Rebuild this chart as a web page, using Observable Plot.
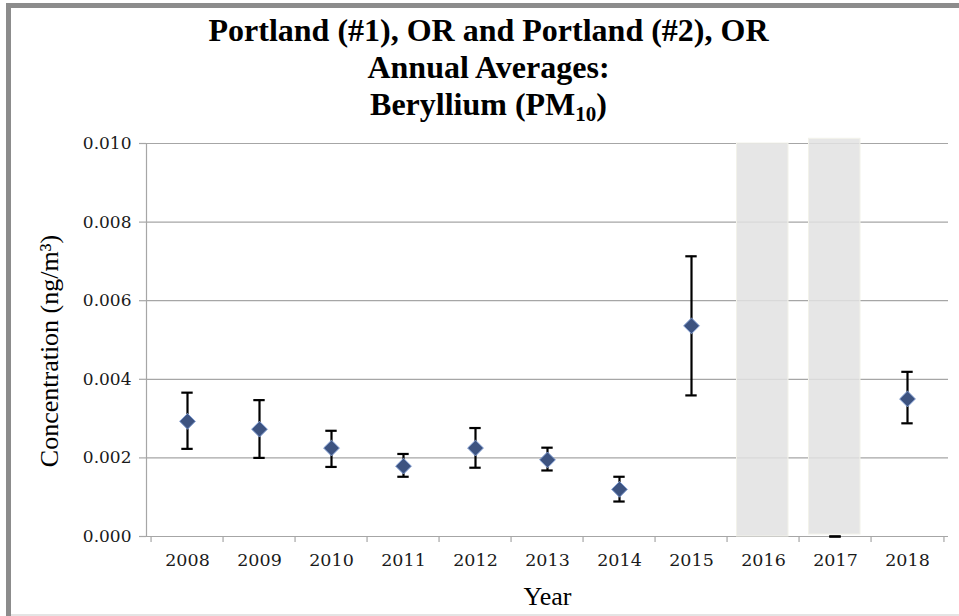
<!DOCTYPE html>
<html>
<head>
<meta charset="utf-8">
<script src="https://cdn.jsdelivr.net/npm/d3@7"></script>
<script src="https://cdn.jsdelivr.net/npm/@observablehq/plot@0.6"></script>
<style>
  html, body { margin: 0; padding: 0; background: #ffffff; }
  #wrap { position: relative; width: 959px; height: 616px; background: #ffffff; overflow: hidden; }
  #frameTop { position: absolute; left: 6px; top: 3px; width: 953px; height: 5px; background: #8c8c8c; }
  #frameLeft { position: absolute; left: 6px; top: 3px; width: 5px; height: 613px; background: #8c8c8c; }
  #frameBottom { position: absolute; left: 11px; top: 614px; width: 948px; height: 2px; background: #e4e4e4; }
  #title { position: absolute; left: 18px; top: 12px; width: 941px; text-align: center;
           font-family: "Liberation Serif", "Times New Roman", serif; font-weight: bold; font-size: 32px; color: #000; }
  #title div { line-height: 37px; height: 37px; white-space: nowrap; }
  #title sub { font-size: 21px; vertical-align: baseline; position: relative; top: 6px; }
  #chart { position: absolute; left: 0; top: 0; }
</style>
</head>
<body>
<div id="wrap">
  <div id="chart"></div>
  <div id="frameTop"></div>
  <div id="frameLeft"></div>
  <div id="frameBottom"></div>
  <div id="title">
    <div>Portland (#1), OR and Portland (#2), OR</div>
    <div>Annual Averages:</div>
    <div>Beryllium (PM<sub>10</sub>)</div>
  </div>
</div>
<script>
// ---- data ----
const years = ["2008", "2009", "2010", "2011", "2012", "2013", "2014", "2015", "2016", "2017", "2018"];
const means = [0.00293, 0.00273, 0.00225, 0.00179, 0.00225, 0.00195, 0.00120, 0.00536, null, null, 0.00350];
const lows  = [0.00223, 0.00200, 0.00177, 0.00152, 0.00175, 0.00168, 0.00089, 0.00359, null, 0, 0.00288];
const highs = [0.00366, 0.00347, 0.00269, 0.00210, 0.00276, 0.00226, 0.00152, 0.00713, null, 0, 0.00419];
const shadeYears = ["2016", "2017"];
const shadeLow = [0, 0.00005];
const shadeHigh = [0.0100, 0.01012];
const yTicks = [0, 0.002, 0.004, 0.006, 0.008, 0.010];
const yTitle = "Concentration (ng/m³)";
const xTitle = "Year";

const rows = years.map((y, i) => ({year: y, mean: means[i], lo: lows[i], hi: highs[i]}));
const shades = shadeYears.map((y, i) => ({year: y, y1: shadeLow[i], y2: shadeHigh[i]}));

const W = 959, H = 616, ML = 146, MR = 11, MT = 143, MB = 80;
const bw = (W - ML - MR) / years.length;
const capW = 12.3;
const capInset = (bw - capW) / 2;
const gridColor = "#a6a6a6";
const tickFont = "DejaVu Serif";
const titleFont = "Liberation Serif";

const chart = Plot.plot({
  width: W, height: H,
  marginLeft: ML, marginRight: MR, marginTop: MT, marginBottom: MB,
  style: {background: "transparent", fontFamily: tickFont, color: "#1a1a1a"},
  x: {type: "band", domain: years, padding: 0},
  y: {domain: [0, 0.010]},
  marks: [
    Plot.gridY(yTicks, {stroke: gridColor, strokeOpacity: 1, strokeWidth: 1.2}),
    Plot.rectY(shades, {x: "year", y1: "y1", y2: "y2", fill: "#e2e2e2", fillOpacity: 0.85,
      stroke: "#f2f2ea", strokeWidth: 1, insetLeft: 9.5, insetRight: 11}),
    Plot.frame({anchor: "left", stroke: gridColor, strokeWidth: 1.2}),
    Plot.axisY(yTicks, {tickSize: 7, tickPadding: 8, tickFormat: d3.format(".3f"),
      stroke: gridColor, strokeWidth: 1.2, fontSize: 17, fontFamily: tickFont, fill: "#1a1a1a", label: null}),
    Plot.axisX({tickSize: 6, text: null, dx: -bw / 2, stroke: gridColor, strokeWidth: 1.2, label: null}),
    Plot.axisX([years[years.length - 1]], {tickSize: 6, text: null, dx: bw / 2, stroke: gridColor, strokeWidth: 1.2, label: null}),
    Plot.axisX({tickSize: 0, tickPadding: 17, fontSize: 17.5, fontFamily: tickFont, fill: "#1a1a1a", label: null}),
    Plot.ruleX(rows, {x: "year", y1: "lo", y2: "hi", stroke: "#000", strokeWidth: 2.2}),
    Plot.tickY(rows, {x: "year", y: "hi", stroke: "#000", strokeWidth: 2.2, insetLeft: capInset, insetRight: capInset}),
    Plot.tickY(rows, {x: "year", y: "lo", stroke: "#000", strokeWidth: 2.2, insetLeft: capInset, insetRight: capInset}),
    Plot.dot(rows, {x: "year", y: "mean", symbol: "diamond2", r: 7.1, fill: "#3d5380", stroke: "#7f9bd0", strokeWidth: 1}),
    Plot.text([xTitle], {frameAnchor: "bottom", dy: 60, lineAnchor: "middle", textAnchor: "middle", fontSize: 26, fontFamily: titleFont, fill: "#000"}),
    Plot.text([yTitle], {frameAnchor: "left", dx: -97, dy: 11, rotate: -90, lineAnchor: "middle", textAnchor: "middle", fontSize: 26, fontFamily: titleFont, fill: "#000"})
  ]
});
document.getElementById("chart").appendChild(chart);
</script>
</body>
</html>
